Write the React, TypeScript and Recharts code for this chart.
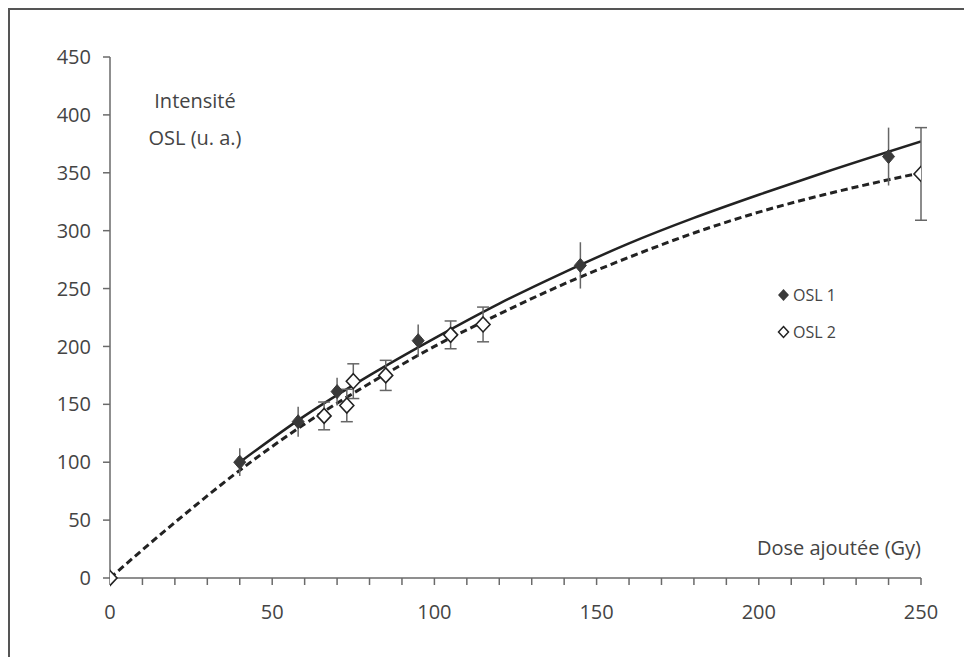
import {
  ComposedChart,
  Line,
  Scatter,
  ErrorBar,
  XAxis,
  YAxis,
} from "recharts";

// measured points (dose in Gy, OSL intensity in a.u., error)
const osl1Dose = [40, 58, 70, 95, 145, 240];
const osl1Int = [100, 135, 161, 205, 270, 364];
const osl1Err = [12, 13, 12, 14, 20, 25];

const osl2Dose = [0, 66, 73, 75, 85, 105, 115, 250];
const osl2Int = [0, 140, 149, 170, 175, 210, 219, 349];
const osl2Err = [null, 12, 14, 15, 13, 12, 15, 40];

// fitted growth curves
const fit1Dose = [40, 60, 80, 100, 120, 140, 160, 180, 200, 220, 250];
const fit1Int = [100, 140, 175, 207, 237, 264, 289, 311, 331, 350, 377];
const fit2Dose = [0, 20, 40, 60, 80, 100, 120, 140, 160, 180, 200, 220, 240, 250];
const fit2Int = [0, 48, 93, 133, 168, 200, 228, 254, 277, 298, 316, 331, 344, 350];

const xTicks = [0, 10, 20, 30, 40, 50, 60, 70, 80, 90, 100, 110, 120, 130, 140, 150, 160, 170, 180, 190, 200, 210, 220, 230, 240, 250];
const yTicks = [0, 50, 100, 150, 200, 250, 300, 350, 400, 450];

const FONT = "'Open Sans', 'Noto Sans', sans-serif";
const AXIS = "#6a6a6a";
const TEXT = "#444";

const toPoints = (xs: number[], ys: (number | null)[], es?: (number | null)[]) =>
  xs.map((x, i) => ({ x, y: ys[i], err: es ? es[i] : null }));

const osl1 = toPoints(osl1Dose, osl1Int, osl1Err);
const osl2 = toPoints(osl2Dose, osl2Int, osl2Err);
const fit1 = toPoints(fit1Dose, fit1Int);
const fit2 = toPoints(fit2Dose, fit2Int);

const FilledDiamond = (props: any) => {
  const { cx, cy } = props;
  if (cx == null || cy == null) return null;
  return (
    <polygon
      points={`${cx},${cy - 7} ${cx + 6},${cy} ${cx},${cy + 7} ${cx - 6},${cy}`}
      fill="#3a3a3a"
      stroke="#3a3a3a"
      strokeWidth={1}
    />
  );
};

const OpenDiamond = (props: any) => {
  const { cx, cy } = props;
  if (cx == null || cy == null) return null;
  return (
    <polygon
      points={`${cx},${cy - 7.5} ${cx + 7},${cy} ${cx},${cy + 7.5} ${cx - 7},${cy}`}
      fill="#fff"
      stroke="#222"
      strokeWidth={1.6}
    />
  );
};

const XTick = (props: any) => {
  const { x, y, payload } = props;
  if (payload.value % 50 !== 0) return null;
  return (
    <text x={x} y={y} dy="0.71em" textAnchor="middle" fill={TEXT} fontSize={20} fontFamily={FONT}>
      {payload.value}
    </text>
  );
};

export default function App() {
  return (
    <div
      style={{
        width: 962,
        height: 647,
        borderTop: "2px solid #555",
        borderLeft: "2px solid #555",
        position: "relative",
        overflow: "hidden",
        fontFamily: FONT,
        background: "#fff",
      }}
    >
      <ComposedChart
        width={962}
        height={647}
        margin={{ top: 47, right: 51, bottom: 49, left: 40 }}
      >
        <XAxis
          type="number"
          dataKey="x"
          domain={[0, 250]}
          ticks={xTicks}
          interval={0}
          tick={<XTick />}
          tickSize={7}
          tickMargin={20}
          height={30}
          stroke={AXIS}
          strokeWidth={1.5}
          allowDataOverflow
        />
        <YAxis
          type="number"
          dataKey="y"
          domain={[0, 450]}
          ticks={yTicks}
          interval={0}
          width={60}
          tickSize={7}
          tickMargin={12}
          stroke={AXIS}
          strokeWidth={1.5}
          tick={{ fill: TEXT, fontSize: 20, fontFamily: FONT }}
        />
        <Line
          data={fit1}
          dataKey="y"
          type="monotone"
          stroke="#222"
          strokeWidth={2.5}
          dot={false}
          activeDot={false}
          isAnimationActive={false}
        />
        <Line
          data={fit2}
          dataKey="y"
          type="monotone"
          stroke="#222"
          strokeWidth={3}
          strokeDasharray="7 4"
          dot={false}
          activeDot={false}
          isAnimationActive={false}
        />
        <Scatter data={osl1} dataKey="y" shape={<FilledDiamond />} isAnimationActive={false}>
          <ErrorBar dataKey="err" direction="y" width={0} stroke="#666" strokeWidth={1.5} />
        </Scatter>
        <Scatter data={osl2} dataKey="y" shape={<OpenDiamond />} isAnimationActive={false}>
          <ErrorBar dataKey="err" direction="y" width={6} stroke="#666" strokeWidth={1.5} />
        </Scatter>
      </ComposedChart>

      {/* axis titles */}
      <div
        style={{
          position: "absolute",
          left: 120,
          top: 72,
          width: 130,
          textAlign: "center",
          fontSize: 20,
          lineHeight: "37px",
          color: TEXT,
        }}
      >
        Intensité
        <br />
        OSL (u. a.)
      </div>
      <div
        style={{
          position: "absolute",
          right: 51,
          top: 524,
          fontSize: 20,
          lineHeight: "28px",
          color: TEXT,
        }}
      >
        Dose ajoutée (Gy)
      </div>

      {/* legend */}
      <div style={{ position: "absolute", left: 767, top: 266, fontSize: 16, color: TEXT }}>
        <div style={{ display: "flex", alignItems: "center", height: 37 }}>
          <svg width={13} height={14}>
            <polygon points="6.5,1 12,7 6.5,13 1,7" fill="#3a3a3a" />
          </svg>
          <span style={{ marginLeft: 3 }}>OSL 1</span>
        </div>
        <div style={{ display: "flex", alignItems: "center", height: 37 }}>
          <svg width={13} height={14}>
            <polygon points="6.5,1.5 11.5,7 6.5,12.5 1.5,7" fill="#fff" stroke="#222" strokeWidth={1.5} />
          </svg>
          <span style={{ marginLeft: 3 }}>OSL 2</span>
        </div>
      </div>
    </div>
  );
}
